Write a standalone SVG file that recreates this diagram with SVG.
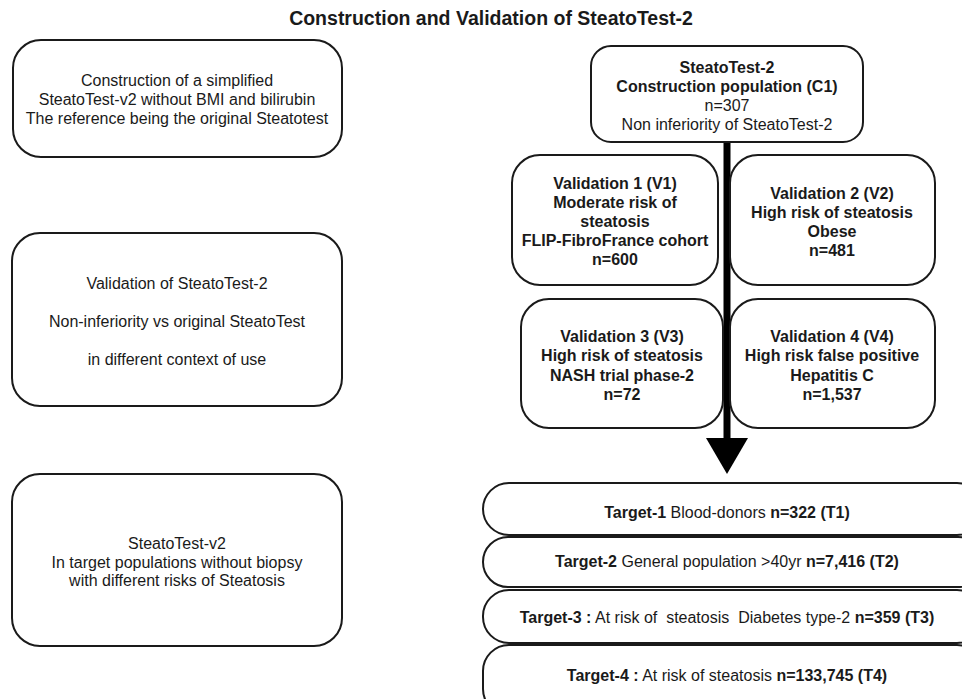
<svg xmlns="http://www.w3.org/2000/svg" width="962" height="699" viewBox="0 0 962 699">
<style>
.box{fill:#fff;stroke:#1a1a1a;stroke-width:2}
text{font-family:"Liberation Sans",Arial,sans-serif;font-size:16px;fill:#1a1a1a;text-anchor:middle;white-space:pre}
.b{font-weight:bold}
.title{font-size:19.5px;font-weight:bold}
</style>
<rect width="962" height="699" fill="#fff"/>
<text class="title" x="491" y="25">Construction and Validation of SteatoTest-2</text>

<g id="left1">
<rect class="box" x="13" y="40" width="329" height="117" rx="28"/>
<text x="177" y="86">Construction of a simplified</text>
<text x="177" y="105">SteatoTest-v2 without BMI and bilirubin</text>
<text x="177" y="124">The reference being the original Steatotest</text>
</g>
<g id="left2">
<rect class="box" x="12" y="233" width="330" height="173" rx="28"/>
<text x="177" y="289">Validation of SteatoTest-2</text>
<text x="177" y="327">Non-inferiority vs original SteatoTest</text>
<text x="177" y="365">in different context of use</text>
</g>
<g id="left3">
<rect class="box" x="12" y="474" width="330" height="172" rx="28"/>
<text x="177" y="549">SteatoTest-v2</text>
<text x="177" y="568">In target populations without biopsy</text>
<text x="177" y="586">with different risks of Steatosis</text>
</g>

<g id="connectors">
<line x1="727" y1="142" x2="727" y2="442" stroke="#000" stroke-width="7"/>
<polygon points="706,438 748,438 727,474" fill="#000"/>
</g>

<g id="C1">
<rect class="box" x="591" y="46" width="272" height="96" rx="20"/>
<text class="b" x="727" y="73">SteatoTest-2</text>
<text class="b" x="727" y="92">Construction population (C1)</text>
<text x="727" y="111">n=307</text>
<text x="727" y="130">Non inferiority of SteatoTest-2</text>
</g>
<g id="V1">
<rect class="box" x="512" y="155" width="206" height="130" rx="28"/>
<text class="b" x="615" y="189">Validation 1 (V1)</text>
<text class="b" x="615" y="208">Moderate risk of</text>
<text class="b" x="615" y="227">steatosis</text>
<text class="b" x="615" y="246">FLIP-FibroFrance cohort</text>
<text class="b" x="615" y="265">n=600</text>
</g>
<g id="V2">
<rect class="box" x="730" y="155" width="205" height="130" rx="28"/>
<text class="b" x="832" y="199">Validation 2 (V2)</text>
<text class="b" x="832" y="218">High risk of steatosis</text>
<text class="b" x="832" y="237">Obese</text>
<text class="b" x="832" y="256">n=481</text>
</g>
<g id="V3">
<rect class="box" x="521" y="299" width="202" height="129" rx="28"/>
<text class="b" x="622" y="342">Validation 3 (V3)</text>
<text class="b" x="622" y="361">High risk of steatosis</text>
<text class="b" x="622" y="381">NASH trial phase-2</text>
<text class="b" x="622" y="400">n=72</text>
</g>
<g id="V4">
<rect class="box" x="730" y="299" width="205" height="129" rx="28"/>
<text class="b" x="832" y="342">Validation 4 (V4)</text>
<text class="b" x="832" y="361">High risk false positive</text>
<text class="b" x="832" y="381">Hepatitis C</text>
<text class="b" x="832" y="400">n=1,537</text>
</g>

<g id="T1">
<rect class="box" x="483" y="483" width="500" height="52" rx="26"/>
<text x="727" y="518"><tspan class="b">Target-1</tspan> Blood-donors <tspan class="b">n=322 (T1)</tspan></text>
</g>
<g id="T2">
<rect class="box" x="483" y="537" width="500" height="50" rx="25"/>
<text x="727" y="567"><tspan class="b">Target-2</tspan> General population &gt;40yr <tspan class="b">n=7,416 (T2)</tspan></text>
</g>
<g id="T3">
<rect class="box" x="483" y="590" width="500" height="53" rx="26"/>
<text x="727" y="623"><tspan class="b">Target-3 :</tspan> At risk of  steatosis  Diabetes type-2 <tspan class="b">n=359 (T3)</tspan></text>
</g>
<g id="T4">
<rect class="box" x="483" y="645" width="500" height="70" rx="26"/>
<text x="727" y="681"><tspan class="b">Target-4 :</tspan> At risk of steatosis <tspan class="b">n=133,745 (T4)</tspan></text>
</g>
</svg>
